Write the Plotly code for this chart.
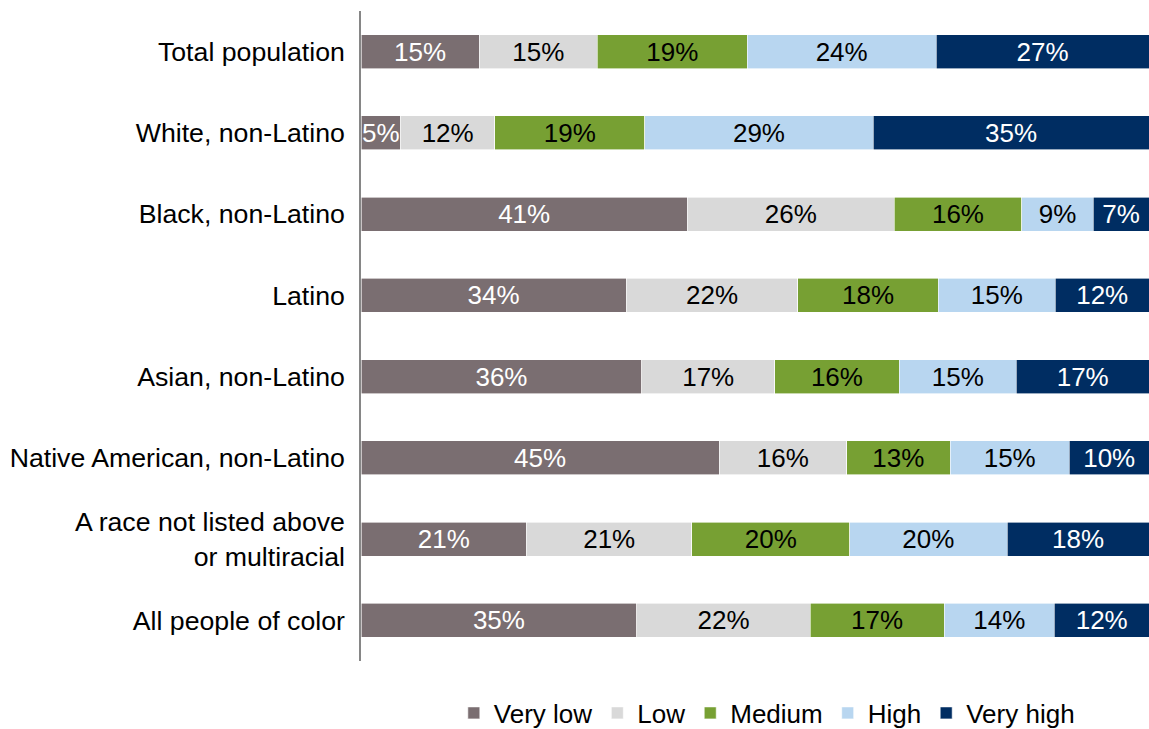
import plotly.graph_objects as go

# Groups shown top-to-bottom
groups = [
    "Total population",
    "White, non-Latino",
    "Black, non-Latino",
    "Latino",
    "Asian, non-Latino",
    "Native American, non-Latino",
    "A race not listed above<br>or multiracial",
    "All people of color",
]

levels = ["Very low", "Low", "Medium", "High", "Very high"]

very_low = [15, 5, 41, 34, 36, 45, 21, 35]
low = [15, 12, 26, 22, 17, 16, 21, 22]
medium = [19, 19, 16, 18, 16, 13, 20, 17]
high = [24, 29, 9, 15, 15, 15, 20, 14]
very_high = [27, 35, 7, 12, 17, 10, 18, 12]

series = [very_low, low, medium, high, very_high]
colors = ["#7a6e71", "#d9d9d9", "#77a033", "#b8d6f0", "#002d62"]
text_colors = ["white", "black", "black", "black", "white"]

FONT = "Liberation Sans, Arial, sans-serif"
FS = 26

fig = go.Figure()
for name, vals, col, tcol in zip(levels, series, colors, text_colors):
    fig.add_trace(
        go.Bar(
            y=groups,
            x=vals,
            name=name,
            orientation="h",
            marker=dict(color=col, line=dict(color="white", width=0.6)),
            text=[f"{v}%" for v in vals],
            textposition="inside",
            insidetextanchor="middle",
            textangle=0,
            constraintext="none",
            textfont=dict(family=FONT, size=FS, color=tcol),
            hoverinfo="name+text",
        )
    )

fig.update_layout(
    barmode="stack",
    barnorm="percent",
    bargap=0.58,
    width=1149,
    height=729,
    margin=dict(l=361, r=0, t=11, b=68, autoexpand=False),
    paper_bgcolor="white",
    plot_bgcolor="white",
    font=dict(family=FONT, size=FS, color="black"),
    uniformtext=dict(minsize=FS, mode="show"),
    xaxis=dict(
        range=[0, 100],
        visible=False,
        fixedrange=True,
    ),
    yaxis=dict(
        autorange="reversed",
        automargin=False,
        showline=True,
        linecolor="#868686",
        linewidth=1.5,
        ticks="",
        ticklabelstandoff=9,
        tickfont=dict(family=FONT, size=26.7, color="black"),
        showgrid=False,
        zeroline=False,
    ),
    legend=dict(
        orientation="h",
        x=0.515,
        xanchor="center",
        y=-0.08,
        yanchor="middle",
        font=dict(family=FONT, size=FS, color="black"),
        itemwidth=30,
        traceorder="normal",
    ),
    showlegend=True,
)

fig.write_html("out.html")
